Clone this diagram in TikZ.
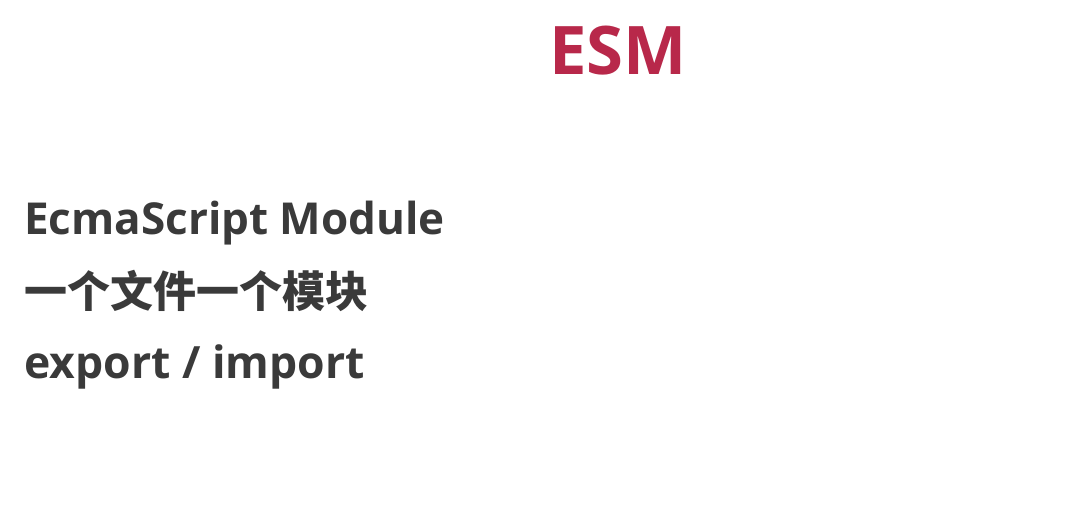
\documentclass[tikz,border=0pt]{standalone}
\usepackage{fontspec}
\setmainfont{Open Sans}
\newfontfamily\cjk{Noto Sans CJK SC}
\definecolor{titlered}{RGB}{184,40,74}
\definecolor{bodygray}{RGB}{58,58,58}
\begin{document}
\begin{tikzpicture}[x=1pt,y=-1pt,
  body/.style={anchor=base west,inner sep=0pt,text=bodygray,font=\fontsize{44}{50}\selectfont\bfseries}]
\useasboundingbox[fill=white] (0,0) rectangle (1085,513);
\node[anchor=base,inner sep=0pt,text=titlered,font=\fontsize{67}{76}\selectfont\bfseries] (title) at (618,75) {ESM};
\node[body] (l1) at (24,235) {EcmaScript Module};
\node[body,font=\fontsize{43}{50}\selectfont\cjk\bfseries] (l2) at (24,308) {一个文件一个模块};
\node[body,font=\fontsize{44.5}{50}\selectfont\bfseries] (l3) at (24,378) {export / import};
\end{tikzpicture}
\end{document}
